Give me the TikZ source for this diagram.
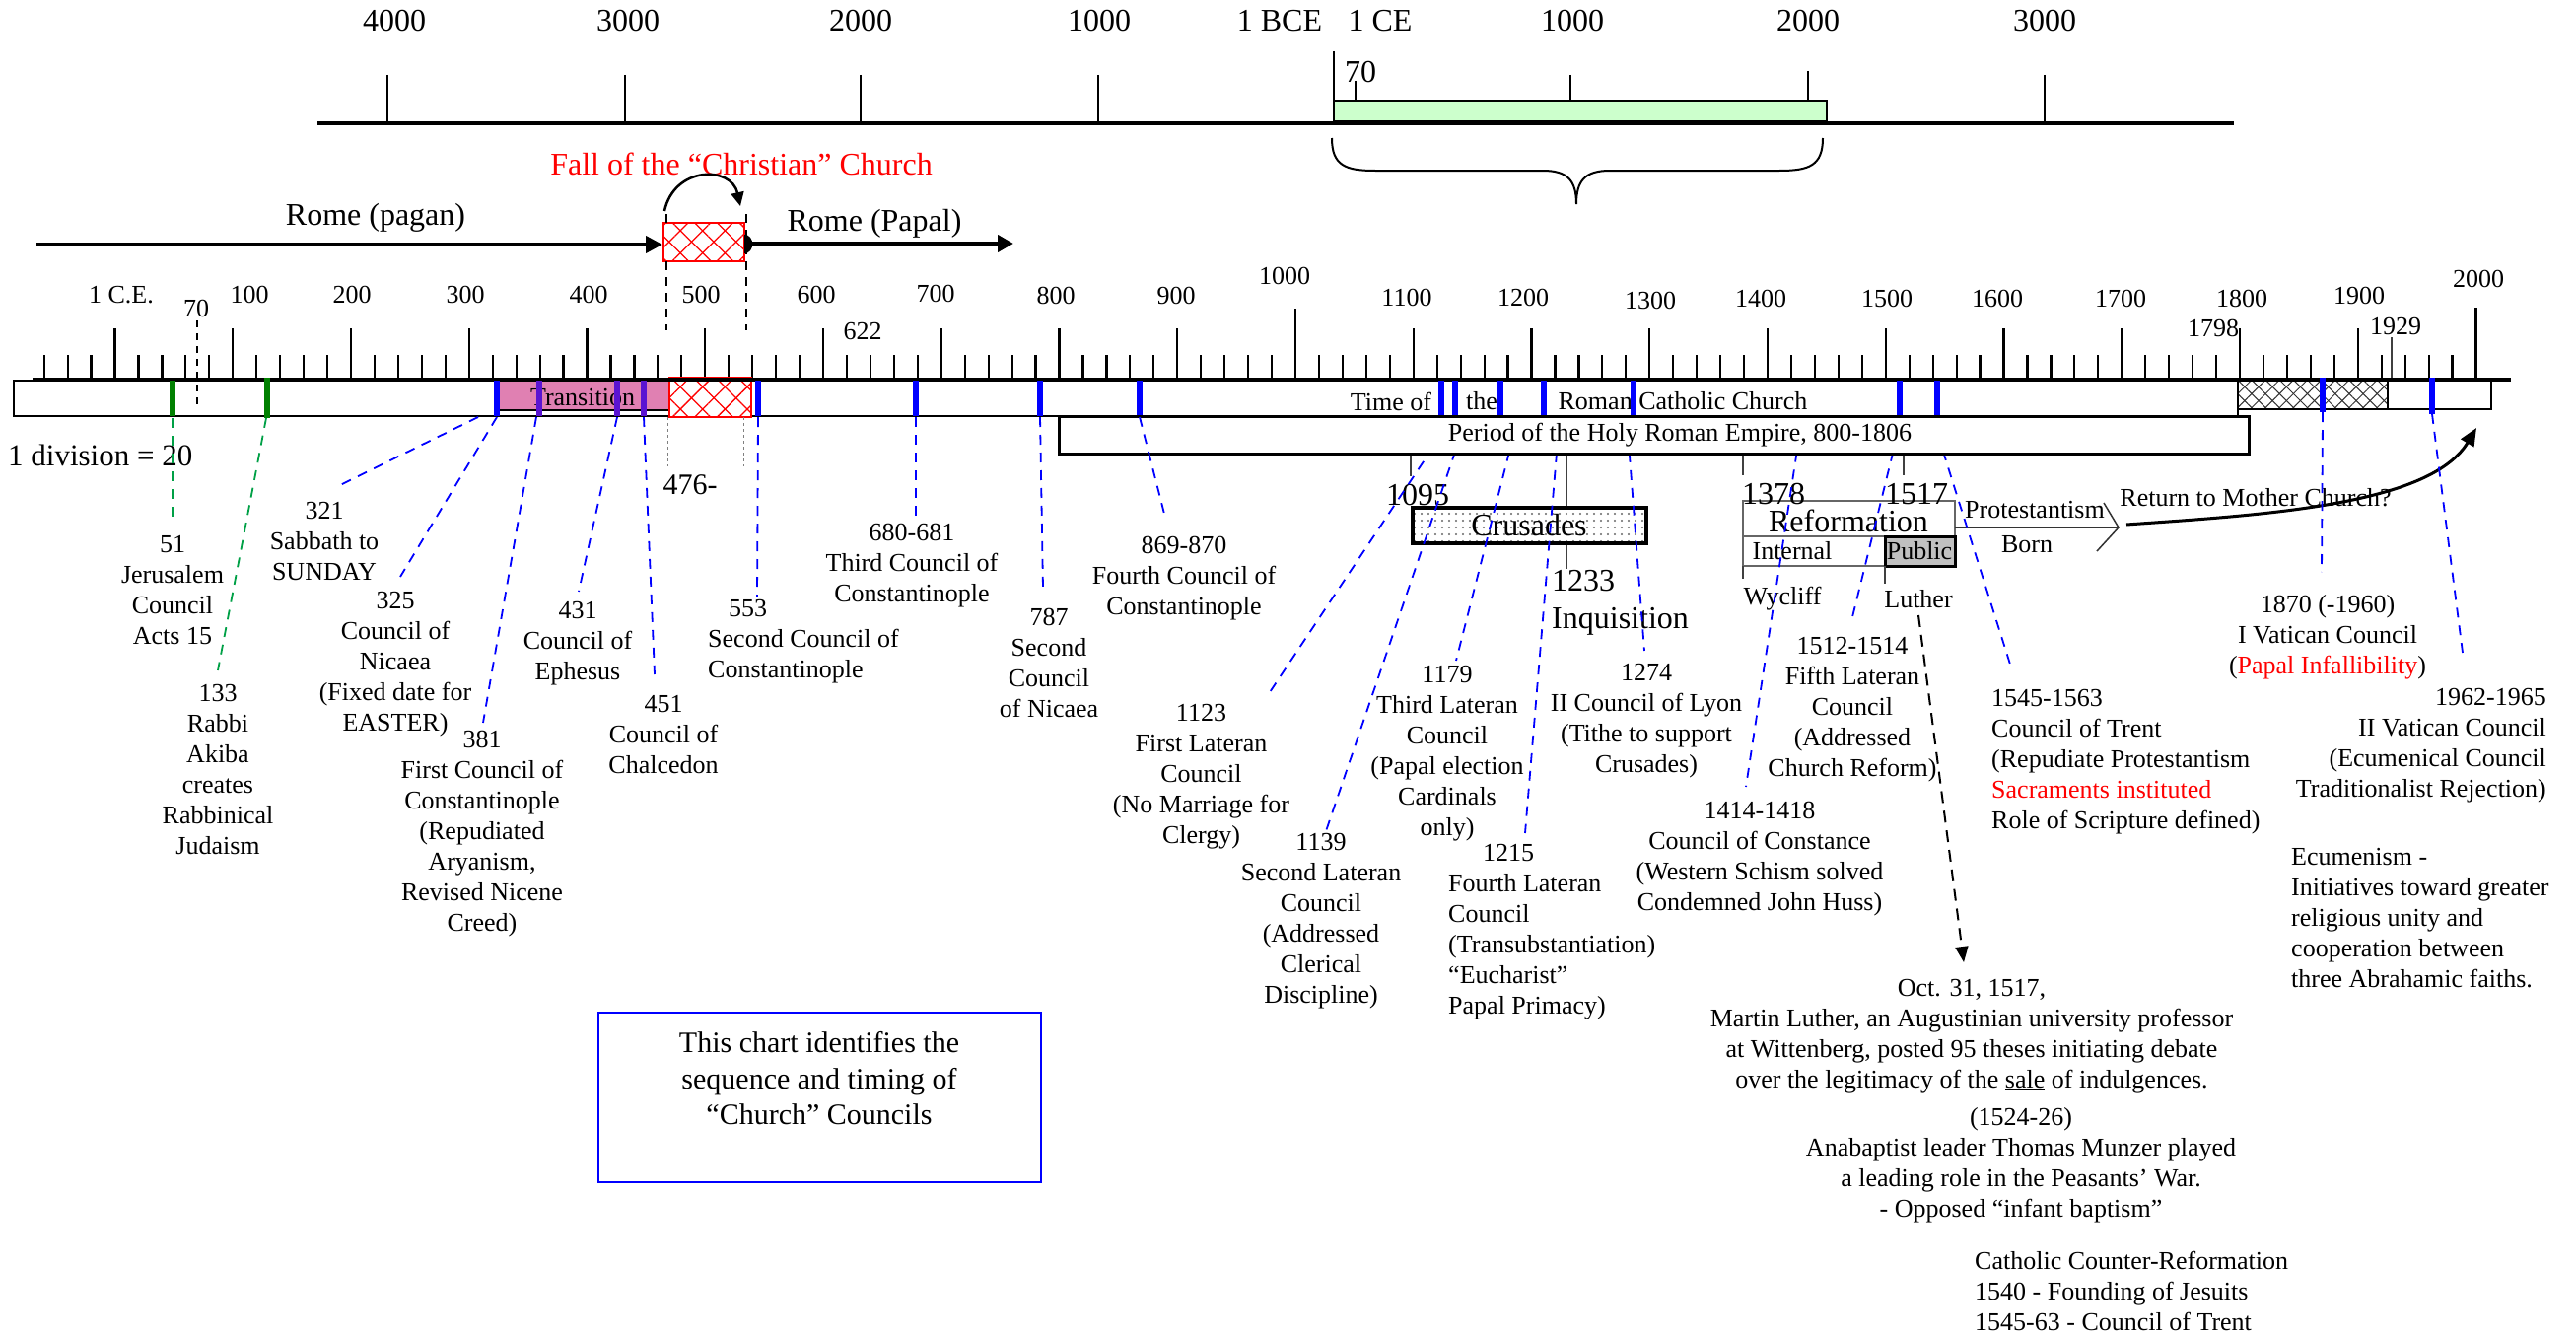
\documentclass[tikz,border=0pt]{standalone}
\usepackage{fontspec}
\setmainfont{Liberation Serif}
\usetikzlibrary{arrows.meta,patterns,patterns.meta}
\definecolor{cblue}{RGB}{0,0,255}
\definecolor{cgreen}{RGB}{0,128,0}
\definecolor{lgreen}{RGB}{0,160,70}
\definecolor{cpink}{RGB}{224,128,178}
\definecolor{cpurple}{RGB}{90,20,210}
\definecolor{paleg}{RGB}{204,255,204}
\definecolor{pubgray}{RGB}{192,192,192}
\begin{document}
\begin{tikzpicture}[x=1pt,y=-1pt,
  txt/.style={font=\fontsize{26}{31}\selectfont, inner sep=0pt, align=center},
  bigtxt/.style={font=\fontsize{32}{38}\selectfont, inner sep=0pt, align=center},
  ticklbl/.style={font=\fontsize{26}{31}\selectfont, inner sep=0pt},
  bar/.style={line width=5.5pt, cblue},
  link/.style={cblue, line width=1.8pt, dash pattern=on 10pt off 8pt},
  glink/.style={lgreen, line width=1.8pt, dash pattern=on 10pt off 8pt},
  thinline/.style={line width=1.2pt, black!75},
  redhatch/.style={pattern={Lines[angle=45,distance=16pt,line width=1.3pt]}, pattern color=red},
  redhatchb/.style={pattern={Lines[angle=-45,distance=16pt,line width=1.3pt]}, pattern color=red},
  blkhatch/.style={pattern={Lines[angle=45,distance=10pt,line width=1pt]}, pattern color=black!80},
  blkhatchb/.style={pattern={Lines[angle=-45,distance=10pt,line width=1pt]}, pattern color=black!80},
]
\useasboundingbox (0,0) rectangle (2613,1354);

% ================= TOP AXIS =================
\draw[line width=3.5pt] (322,125) -- (2266,125);
\foreach \x in {393,634,873,1114,1593,2074} \draw[line width=2pt] (\x,76) -- (\x,125);
\draw[line width=2pt] (1353,52) -- (1353,125);
\draw[line width=2pt] (1834,72) -- (1834,103);
\draw[line width=2.5pt, fill=paleg] (1353,102) rectangle (1853,123);
\draw[line width=2pt] (1375,82) -- (1375,102);
\node[bigtxt] (a4000) at (400,21) {4000};
\node[bigtxt] (a3000) at (637,21) {3000};
\node[bigtxt] (a2000) at (873,21) {2000};
\node[bigtxt] (a1000) at (1115,21) {1000};
\node[bigtxt] (a1bce) at (1298,21) {1 BCE};
\node[bigtxt] (a1ce) at (1400,21) {1 CE};
\node[bigtxt] (b1000) at (1595,21) {1000};
\node[bigtxt] (b2000) at (1834,21) {2000};
\node[bigtxt] (b3000) at (2074,21) {3000};
\node[bigtxt] (a70) at (1380,73) {70};
\draw[line width=2pt] (1351,140) .. controls (1351,168) and (1365,173) .. (1395,173) -- (1565,173) .. controls (1590,173) and (1599,183) .. (1599,207) .. controls (1599,183) and (1608,173) .. (1633,173) -- (1805,173) .. controls (1835,173) and (1849,168) .. (1849,140);

% ================= FALL / ROME =================
\node[bigtxt, text=red] (fall) at (752,166) {Fall of the “Christian” Church};
\draw[line width=2.5pt, -{Triangle[length=14pt,width=13pt]}] (674,214) .. controls (684,168) and (742,168) .. (751,209);
\fill[white] (673,226) rectangle (755,265);
\path[redhatch] (673,226) rectangle (755,265);
\path[redhatchb] (673,226) rectangle (755,265);
\draw[red, line width=2.5pt] (673,226) rectangle (755,265);
\draw[line width=1.5pt, dash pattern=on 9pt off 7pt] (676,265) -- (676,335);
\draw[line width=1.5pt, dash pattern=on 9pt off 7pt] (757,217) -- (757,335);
\draw[line width=1.5pt, dash pattern=on 9pt off 7pt] (676,217) -- (676,226);
\node[bigtxt] (rpagan) at (381,221) {Rome (pagan)};
\node[bigtxt] (rpapal) at (887,227) {Rome (Papal)};
\draw[line width=4pt, -{Triangle[length=17pt,width=17pt]}] (37,248) -- (672,248);
\fill (755,238) .. controls (766,238) and (766,257) .. (755,257) -- cycle;
\draw[line width=4pt, -{Triangle[length=16pt,width=17pt]}] (757,247) -- (1028,247);

% ================= MAIN TIMELINE =================
\foreach \k in {-3,...,100}{
  \pgfmathsetmacro{\xx}{116.5+23.95*\k}
  \pgfmathsetmacro{\yy}{ifthenelse(\k==50,313,ifthenelse(\k==100,312,ifthenelse(mod(\k,5)==0,333,360)))}
  \draw[line width=2.2pt] (\xx,\yy) -- (\xx,385);
}
\draw[thinline] (2426,342) -- (2426,385);
\node[ticklbl] (l1ce) at (123,299) {1 C.E.};
\node[ticklbl] (l70) at (199,313) {70};
\node[ticklbl] (l100) at (253,299) {100};
\node[ticklbl] (l200) at (357,299) {200};
\node[ticklbl] (l300) at (472,299) {300};
\node[ticklbl] (l400) at (597,299) {400};
\node[ticklbl] (l500) at (711,299) {500};
\node[ticklbl] (l600) at (828,299) {600};
\node[ticklbl] (l622) at (875,336) {622};
\node[ticklbl] (l700) at (949,298) {700};
\node[ticklbl] (l800) at (1071,300) {800};
\node[ticklbl] (l900) at (1193,300) {900};
\node[ticklbl] (l1000) at (1303,280) {1000};
\node[ticklbl] (l1100) at (1427,302) {1100};
\node[ticklbl] (l1200) at (1545,302) {1200};
\node[ticklbl] (l1300) at (1674,305) {1300};
\node[ticklbl] (l1400) at (1786,303) {1400};
\node[ticklbl] (l1500) at (1914,303) {1500};
\node[ticklbl] (l1600) at (2026,303) {1600};
\node[ticklbl] (l1700) at (2151,303) {1700};
\node[ticklbl] (l1800) at (2274,303) {1800};
\node[ticklbl] (l1900) at (2393,300) {1900};
\node[ticklbl] (l2000) at (2514,283) {2000};
\node[ticklbl] (l1798) at (2245,333) {1798};
\node[ticklbl] (l1929) at (2430,331) {1929};

% boxes on the time line
\draw[line width=2.5pt, fill=white] (14,386) rectangle (2270,422);
\fill[white] (2270,386) rectangle (2422,415);
\path[blkhatch] (2270,386) rectangle (2422,415);
\path[blkhatchb] (2270,386) rectangle (2422,415);
\draw[line width=2.5pt] (2270,386) rectangle (2422,415);
\draw[line width=2.5pt, fill=white] (2422,386) rectangle (2527,415);
\draw[line width=1.5pt, fill=cpink] (505,385) rectangle (692,416);
\node[txt] (trans) at (591,403) {Transition};
\fill[white] (679,383) rectangle (762,423);
\path[redhatch] (679,383) rectangle (762,423);
\path[redhatchb] (679,383) rectangle (762,423);
\draw[red, line width=2.5pt] (679,383) rectangle (762,423);
\draw[line width=4pt] (33,385) -- (2547,385);
\draw[line width=1.3pt, dash pattern=on 7pt off 6pt] (200,325) -- (200,412);
\draw[gray, line width=1pt, dash pattern=on 3pt off 3pt] (677,423) -- (677,473);
\draw[gray, line width=1pt, dash pattern=on 3pt off 3pt] (754,423) -- (754,473);

\node[txt] (timeof) at (1411,407) {Time of};
\node[txt] (the) at (1503,407) {the};
\node[txt] (rcc) at (1707,407) {Roman Catholic Church};

% council bars
\draw[line width=5.5pt, cgreen] (175,386) -- (175,422);
\draw[line width=5.5pt, cgreen] (271,383) -- (271,424);
\foreach \x in {504,769,929,1055,1156,1462,1476,1522,1566,1657,1927,1965} \draw[bar] (\x,386) -- (\x,422);
\foreach \x in {547,626,653} \draw[line width=5.5pt, cpurple] (\x,386) -- (\x,422);
\draw[bar] (2356,383) -- (2356,418);
\draw[bar] (2467,383) -- (2467,420);

\node[font=\fontsize{31}{36}\selectfont, inner sep=0pt, anchor=west] (division) at (8,462) {1 division = 20};
\node[font=\fontsize{30}{36}\selectfont, inner sep=0pt] (d476) at (700,492) {476-};

% Crusades
\draw[thinline] (1431,460) -- (1431,483);
\draw[thinline] (1589,460) -- (1589,577);
\fill[white] (1433,515) rectangle (1670,551);
\path[pattern={Dots[distance=7pt,radius=1.1pt]}, pattern color=black!60] (1433,515) rectangle (1670,551);
\draw[line width=3.5pt] (1433,515) rectangle (1670,551);
\node[bigtxt] (crus) at (1551,533) {Crusades};
\node[bigtxt] (y1095) at (1438,502) {1095};
\node[bigtxt, align=left, anchor=west] (inq) at (1574,611) {1233\\Inquisition};

% Reformation
\draw[thinline] (1768,460) -- (1768,482);
\draw[thinline] (1931,460) -- (1931,482);
\draw[line width=1.5pt, black!60] (1768,508) rectangle (1983,574);
\draw[line width=1.5pt, black!60] (1768,544) -- (1912,544);
\draw[line width=3pt, fill=pubgray] (1912,544) rectangle (1983,574);
\draw[thinline] (1768,574) -- (1768,587);
\draw[thinline] (1912,574) -- (1912,592);
\node[bigtxt] (reform) at (1875,528) {Reformation};
\node[txt] (internal) at (1818,559) {Internal};
\node[txt] (public) at (1947,559) {Public};
\node[bigtxt] (y1378) at (1799,501) {1378};
\node[bigtxt] (y1517) at (1944,501) {1517};
\node[txt] (wycliff) at (1808,607) {Wycliff};
\node[txt] (luther) at (1946,608) {Luther};
\draw[line width=1.5pt, black!80] (1983,535) -- (2149,535);
\draw[line width=1.5pt, black!80] (2134,510) -- (2149,535) -- (2127,559);
\node[txt] (prot) at (2064,517) {Protestantism};
\node[txt] (born) at (2056,552) {Born};
\node[txt] (ret) at (2288,505) {Return to Mother Church?};
\coordinate (retstart) at (2157,532);
\coordinate (retend) at (2512,434);
\draw[line width=3pt, -{Triangle[length=18pt,width=15pt]}] (retstart) .. controls (2300,522) and (2465,512) .. (retend);

% links (behind HRE box)
\draw[glink] (175,424) -- (175,530);
\draw[glink] (270,424) -- (221,680);
\foreach \n/\sx/\sy/\ex/\ey in {
  321/485/423/343/493, 325/504/423/406/585, 381/544/423/490/733, 431/626/423/587/600,
  451/653/423/664/684, 553/769/423/768/605, 680/929/423/929/525, 787/1055/423/1058/597,
  1123/1474/423/1286/705, 1139/1488/423/1345/843, 1179/1540/423/1477/670,
  1215/1582/423/1547/845, 1274/1650/423/1668/660, 1414/1828/423/1771/798,
  1512/1929/423/1878/630, 1545/1960/423/2041/680, 1870/2356/418/2355/580,
  1962/2467/420/2498/662}{
  \coordinate (s\n) at (\sx,\sy);
  \coordinate (e\n) at (\ex,\ey);
  \draw[link] (s\n) -- (e\n);
}

% Holy Roman Empire box
\draw[line width=3pt, fill=white] (1074,422) rectangle (2281,460);
\node[txt] (hre) at (1704,441) {Period of the Holy Roman Empire, 800-1806};
\coordinate (s869) at (1156,423);
\coordinate (e869) at (1182,525);
\draw[link] (s869) -- (e869);

% Luther arrow
\coordinate (lutherstart) at (1946,624);
\coordinate (luthertip) at (1992,976);
\draw[line width=2pt, dash pattern=on 12pt off 8pt, -{Triangle[length=16pt,width=13pt]}] (lutherstart) -- (luthertip);

% council labels
\node[txt] (n51) at (175,598.5) {51\\Jerusalem\\Council\\Acts 15};
\node[txt] (n133) at (221,781) {133\\Rabbi\\Akiba\\creates\\Rabbinical\\Judaism};
\node[txt] (n321) at (329,549) {321\\Sabbath to\\SUNDAY};
\node[txt] (n325) at (401,674) {325\\Council of\\Nicaea\\(Fixed date for\\EASTER)};
\node[txt] (n381) at (489,845.5) {381\\First Council of\\Constantinople\\(Repudiated\\Aryanism,\\Revised Nicene\\Creed)};
\node[txt] (n431) at (586,653) {431\\Council of\\Ephesus};
\node[txt] (n451) at (673,745.5) {451\\Council of\\Chalcedon};
\node[txt, align=left, anchor=west] (n553) at (718,650.5) {\hspace*{21pt}553\\Second Council of\\Constantinople};
\node[txt] (n680) at (925,574) {680-681\\Third Council of\\Constantinople};
\node[txt] (n787) at (1064,672) {787\\Second\\Council\\of Nicaea};
\node[txt] (n869) at (1201,587) {869-870\\Fourth Council of\\Constantinople};
\node[txt] (n1123) at (1218.5,788) {1123\\First Lateran\\Council\\(No Marriage for\\Clergy)};
\node[txt] (n1139) at (1340,934.5) {1139\\Second Lateran\\Council\\(Addressed\\Clerical\\Discipline)};
\node[txt] (n1179) at (1468,764.5) {1179\\Third Lateran\\Council\\(Papal election\\Cardinals\\only)};
\node[txt, align=left, anchor=west] (n1215) at (1469,945) {\hspace*{35pt}1215\\Fourth Lateran\\Council\\(Transubstantiation)\\“Eucharist”\\Papal Primacy)};
\node[txt] (n1274) at (1670,731.5) {1274\\II Council of Lyon\\(Tithe to support\\Crusades)};
\node[txt] (n1414) at (1785,871.5) {1414-1418\\Council of Constance\\(Western Schism solved\\Condemned John Huss)};
\node[txt] (n1512) at (1879,720) {1512-1514\\Fifth Lateran\\Council\\(Addressed\\Church Reform)};
\node[txt, align=left, anchor=west] (n1545) at (2020,772.5) {1545-1563\\Council of Trent\\(Repudiate Protestantism\\\textcolor{red}{Sacraments instituted}\\Role of Scripture defined)};
\node[txt] (n1870) at (2361,646) {1870 (-1960)\\I Vatican Council\\(\textcolor{red}{Papal Infallibility})};
\node[txt, align=right, anchor=east] (n1962) at (2583,756.5) {1962-1965\\II Vatican Council\\(Ecumenical Council\\Traditionalist Rejection)};
\node[txt, align=left, anchor=west] (ecum) at (2324,931) {Ecumenism -\\Initiatives toward greater\\religious unity and\\cooperation between\\three Abrahamic faiths.};
\node[txt] (oct) at (2000,1051.5) {Oct. 31, 1517,\\Martin Luther, an Augustinian university professor\\at Wittenberg, posted 95 theses initiating debate\\over the legitimacy of the \underline{sale} of indulgences.};
\node[txt] (anab) at (2050,1181.5) {(1524-26)\\Anabaptist leader Thomas Munzer played\\a leading role in the Peasants' War.\\- Opposed “infant baptism”};
\node[txt, align=left, anchor=west] (counter) at (2003,1309) {Catholic Counter-Reformation\\1540 - Founding of Jesuits\\1545-63 - Council of Trent};

% chart note
\draw[cblue, line width=2.5pt] (607,1027) rectangle (1056,1199);
\node[font=\fontsize{30}{36.5}\selectfont, inner sep=0pt, align=center] (chart) at (831,1094) {This chart identifies the\\sequence and timing of\\“Church” Councils};
\end{tikzpicture}
\end{document}
